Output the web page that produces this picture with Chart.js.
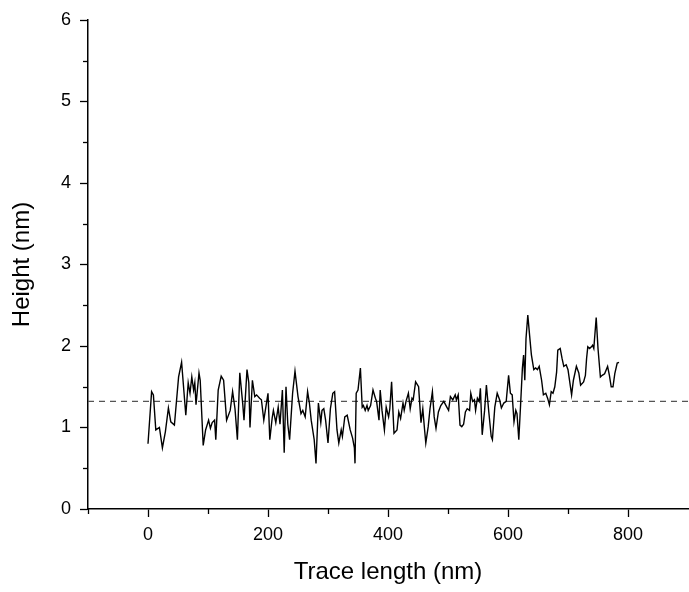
<!DOCTYPE html>
<html>
<head>
<meta charset="utf-8">
<script src="https://cdn.jsdelivr.net/npm/chart.js@4"></script>
<style>
  html, body { margin: 0; padding: 0; background: #fff; }
  #wrap { width: 689px; height: 592px; }
</style>
</head>
<body>
<div id="wrap"><canvas id="chart" width="689" height="592"></canvas></div>
<script>
// trace length (nm)
const traceX = [
  0, 6, 9, 13, 19, 24, 29, 34, 38, 44, 51, 56, 63, 67, 70, 73, 76, 78, 80, 85,
  87, 92, 96, 101, 104, 107, 111, 113, 117, 122, 126, 131, 137, 141, 145, 149, 153, 158, 160, 165,
  168, 170, 174, 178, 181, 186, 189, 193, 200, 203, 207, 209, 213, 217, 220, 224, 227, 230, 233, 236,
  241, 245, 250, 255, 258, 262, 266, 269, 272, 277, 280, 284, 288, 290, 293, 296, 300, 304, 308, 311,
  315, 318, 322, 324, 328, 332, 337, 341, 344, 345, 347, 350, 354, 357, 359, 362, 365, 367, 371, 375,
  379, 381, 385, 387, 390, 394, 397, 401, 403, 406, 410, 415, 418, 421, 425, 427, 430, 434, 437, 440,
  442, 446, 451, 455, 458, 461, 463, 467, 470, 474, 477, 480, 484, 488, 493, 498, 501, 504, 508, 512,
  514, 517, 520, 523, 526, 529, 532, 536, 538, 541, 544, 546, 549, 552, 554, 557, 561, 564, 568, 572,
  574, 578, 582, 586, 589, 593, 597, 601, 604, 607, 610, 613, 615, 618, 621, 624, 626, 628, 630, 633,
  636, 639, 643, 646, 649, 652, 656, 659, 663, 666, 669, 672, 675, 678, 681, 683, 687, 690, 693, 697,
  700, 706, 709, 714, 718, 721, 726, 729, 731, 733, 736, 739, 741, 743, 747, 750, 754, 757, 761, 766,
  769, 772, 775, 778, 782, 785
];
// height (nm)
const traceY = [
  0.80, 1.44, 1.40, 0.97, 1.00, 0.75, 0.95, 1.24, 1.07, 1.03, 1.62, 1.80, 1.15, 1.55, 1.42, 1.62, 1.46, 1.55, 1.28, 1.67,
  1.58, 0.78, 0.97, 1.09, 0.99, 1.06, 1.09, 0.85, 1.46, 1.63, 1.58, 1.09, 1.21, 1.44, 1.23, 0.85, 1.67, 1.28, 1.09, 1.71,
  1.55, 1.00, 1.58, 1.38, 1.40, 1.36, 1.34, 1.09, 1.42, 0.85, 1.12, 1.21, 1.06, 1.25, 1.04, 1.46, 0.69, 1.50, 1.04, 0.85,
  1.42, 1.69, 1.38, 1.17, 1.21, 1.13, 1.44, 1.30, 1.09, 0.85, 0.56, 1.30, 1.06, 1.21, 1.23, 1.09, 0.81, 1.23, 1.42, 1.44,
  0.97, 0.81, 0.97, 0.89, 1.13, 1.15, 0.97, 0.87, 0.75, 0.56, 1.42, 1.46, 1.73, 1.25, 1.27, 1.21, 1.27, 1.21, 1.27, 1.46,
  1.36, 1.32, 1.09, 1.46, 1.21, 0.97, 1.25, 1.13, 1.23, 1.56, 0.93, 0.97, 1.19, 1.11, 1.30, 1.21, 1.32, 1.42, 1.23, 1.36,
  1.34, 1.56, 1.50, 1.06, 1.23, 0.97, 0.81, 1.01, 1.23, 1.44, 1.13, 0.99, 1.19, 1.27, 1.32, 1.25, 1.21, 1.38, 1.34, 1.40,
  1.34, 1.40, 1.03, 1.01, 1.04, 1.19, 1.23, 1.21, 1.42, 1.32, 1.34, 1.21, 1.36, 1.32, 1.48, 0.91, 1.21, 1.52, 1.19, 0.89,
  0.85, 1.25, 1.42, 1.34, 1.24, 1.30, 1.32, 1.64, 1.42, 1.40, 1.07, 1.21, 1.17, 0.85, 1.28, 1.73, 1.89, 1.58, 2.09, 2.38,
  2.13, 1.89, 1.71, 1.73, 1.71, 1.75, 1.58, 1.40, 1.42, 1.36, 1.28, 1.44, 1.42, 1.50, 1.68, 1.95, 1.97, 1.85, 1.75, 1.77,
  1.71, 1.40, 1.58, 1.75, 1.67, 1.52, 1.56, 1.64, 1.85, 1.99, 1.97, 1.99, 2.01, 1.97, 2.35, 1.97, 1.62, 1.64, 1.66, 1.75,
  1.64, 1.50, 1.50, 1.66, 1.79, 1.80
];
const baselineHeight = 1.32;
const xRange = [-100, 900];
const yRange = [0, 6];
const xTickLabels = [0, 200, 400, 600, 800];

const tracePoints = traceX.map((x, i) => ({ x: x, y: traceY[i] }));
const baselinePoints = xRange.map(x => ({ x: x, y: baselineHeight }));

const FONT = "'Liberation Sans', Arial, sans-serif";
const MAJOR_LEN = 8;
const MINOR_LEN = 5;

// shorter minor tick marks, drawn by hand
const minorTicks = {
  id: 'minorTicks',
  afterDraw(chart) {
    const ctx = chart.ctx;
    ctx.save();
    ctx.strokeStyle = '#000';
    ctx.lineWidth = 1.3;
    const xs = chart.scales.x;
    xs.ticks.forEach(t => {
      if (xTickLabels.includes(t.value) || t.value === xRange[1]) return;
      const px = Math.round(xs.getPixelForValue(t.value)) + 0.5;
      ctx.beginPath();
      ctx.moveTo(px, xs.top);
      ctx.lineTo(px, xs.top + MINOR_LEN);
      ctx.stroke();
    });
    const ys = chart.scales.y;
    ys.ticks.forEach(t => {
      if (Number.isInteger(t.value)) return;
      const py = Math.round(ys.getPixelForValue(t.value)) + 0.5;
      ctx.beginPath();
      ctx.moveTo(ys.right, py);
      ctx.lineTo(ys.right - MINOR_LEN, py);
      ctx.stroke();
    });
    ctx.restore();
  }
};

new Chart(document.getElementById('chart').getContext('2d'), {
  type: 'scatter',
  data: {
    datasets: [
      {
        label: 'Height',
        data: tracePoints,
        showLine: true,
        borderColor: '#000',
        borderWidth: 1.4,
        pointRadius: 0,
        tension: 0
      },
      {
        label: 'Mean',
        data: baselinePoints,
        showLine: true,
        borderColor: '#555',
        borderWidth: 1.2,
        borderDash: [6, 5],
        pointRadius: 0
      }
    ]
  },
  options: {
    responsive: false,
    animation: false,
    layout: { padding: { top: 20, right: 1, left: 0, bottom: 0 } },
    plugins: {
      legend: { display: false },
      tooltip: { enabled: false }
    },
    scales: {
      x: {
        type: 'linear',
        min: xRange[0],
        max: xRange[1],
        afterFit: (s) => { s.height = 83; s.paddingRight = 0; s.paddingLeft = 0; },
        border: { display: true, color: '#000', width: 1.5 },
        grid: {
          drawOnChartArea: false,
          drawTicks: true,
          tickLength: MAJOR_LEN,
          tickWidth: 1.3,
          tickColor: (c) => (c.tick && xTickLabels.includes(c.tick.value)) ? '#000' : 'rgba(0,0,0,0)'
        },
        ticks: {
          stepSize: 100,
          autoSkip: false,
          maxRotation: 0,
          padding: 7,
          color: '#000',
          font: { family: FONT, size: 18 },
          callback: (v) => xTickLabels.includes(v) ? String(v) : ''
        },
        title: {
          display: true,
          text: 'Trace length (nm)',
          color: '#000',
          font: { family: FONT, size: 24 },
          padding: { top: 0, bottom: 5 }
        }
      },
      y: {
        type: 'linear',
        min: yRange[0],
        max: yRange[1],
        afterFit: (s) => { s.width = 88; },
        border: { display: true, color: '#000', width: 1.5 },
        grid: {
          drawOnChartArea: false,
          drawTicks: true,
          tickLength: MAJOR_LEN,
          tickWidth: 1.3,
          tickColor: (c) => (c.tick && Number.isInteger(c.tick.value)) ? '#000' : 'rgba(0,0,0,0)'
        },
        ticks: {
          stepSize: 0.5,
          autoSkip: false,
          padding: 9,
          color: '#000',
          font: { family: FONT, size: 18 },
          callback: (v) => Number.isInteger(v) ? String(v) : ''
        },
        title: {
          display: true,
          text: 'Height (nm)',
          color: '#000',
          font: { family: FONT, size: 24 },
          padding: { top: 8, bottom: 0 }
        }
      }
    }
  },
  plugins: [minorTicks]
});
</script>
</body>
</html>
